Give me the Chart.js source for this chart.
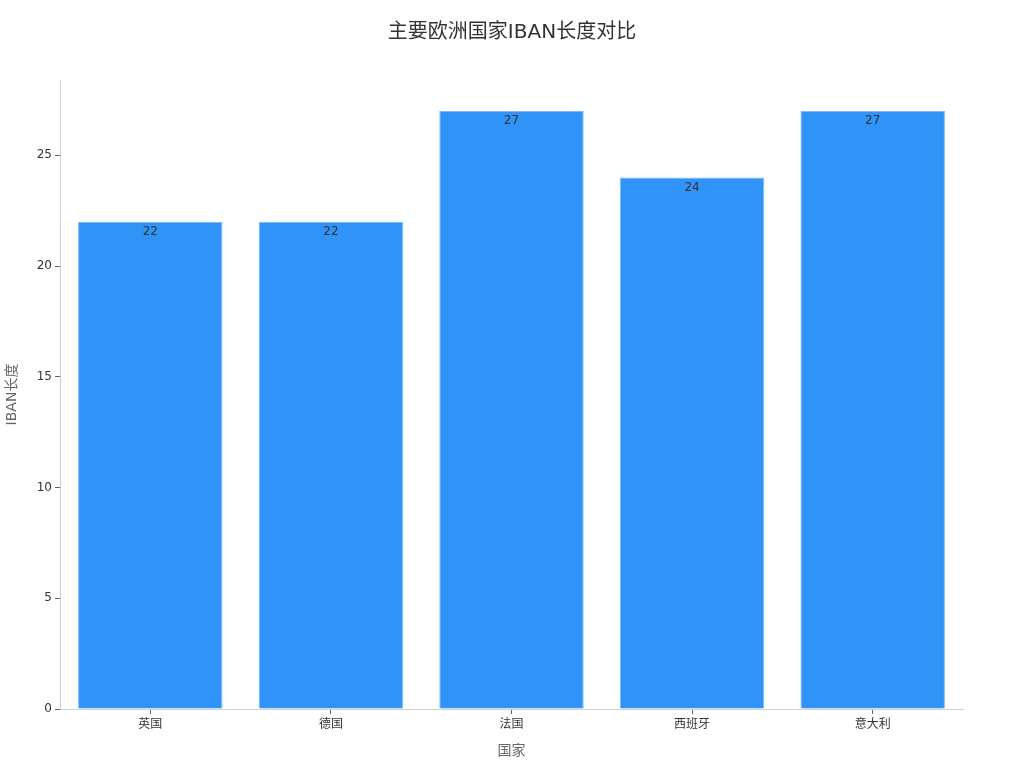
<!DOCTYPE html>
<html>
<head>
<meta charset="utf-8">
<script src="https://cdn.jsdelivr.net/npm/chart.js@4"></script>
<style>
  html, body { margin: 0; padding: 0; background: #fff; }
  canvas { display: block; }
</style>
</head>
<body>
<canvas id="chart" width="1024" height="768"></canvas>
<script>
const countries = ['英国', '德国', '法国', '西班牙', '意大利'];
const ibanLengths = [22, 22, 27, 24, 27];
const yTicks = [0, 5, 10, 15, 20, 25];
const chartTitle = '主要欧洲国家IBAN长度对比';

const FONT = "'DejaVu Sans', 'Noto Sans CJK SC', sans-serif";

// title centred on the whole canvas + value labels inside bar tops
const extras = {
  id: 'extras',
  afterDatasetsDraw(chart) {
    const ctx = chart.ctx;
    const meta = chart.getDatasetMeta(0);
    ctx.save();
    ctx.font = '12px ' + FONT;
    ctx.fillStyle = '#333';
    ctx.textAlign = 'center';
    ctx.textBaseline = 'middle';
    meta.data.forEach((bar, i) => {
      ctx.fillText(String(ibanLengths[i]), bar.x, bar.y + 10);
    });
    ctx.font = '20px ' + FONT;
    ctx.fillText(chartTitle, chart.width / 2, 33);
    ctx.restore();
  }
};

new Chart(document.getElementById('chart'), {
  type: 'bar',
  data: {
    labels: countries,
    datasets: [{
      label: 'IBAN长度',
      data: ibanLengths,
      backgroundColor: '#2f93f7',
      borderColor: '#7dbaf8',
      borderWidth: 1,
      barPercentage: 0.8,
      categoryPercentage: 1.0
    }]
  },
  options: {
    responsive: false,
    animation: false,
    layout: { padding: { left: 0, right: 61, top: 80, bottom: 0 } },
    plugins: {
      legend: { display: false },
      tooltip: { enabled: false },
      title: { display: false }
    },
    scales: {
      x: {
        afterFit(scale) { scale.height = 59; },
        grid: { display: true, offset: false, drawOnChartArea: false, drawTicks: true, tickLength: 5, color: '#666' },
        border: { display: true, color: '#d0d0d0', width: 1 },
        ticks: { color: '#333', padding: 4, font: { family: FONT, size: 12 } },
        title: {
          display: true,
          text: '国家',
          color: '#666',
          font: { family: FONT, size: 14 },
          padding: { top: 4, bottom: 8 }
        }
      },
      y: {
        min: 0,
        max: 28.4,
        afterFit(scale) { scale.width = 60; },
        afterBuildTicks(scale) { scale.ticks = yTicks.map(v => ({ value: v })); },
        grid: { display: true, drawOnChartArea: false, drawTicks: true, tickLength: 5, color: '#666' },
        border: { display: true, color: '#d0d0d0', width: 1 },
        ticks: { color: '#333', padding: 3, font: { family: FONT, size: 12 } },
        title: {
          display: true,
          text: 'IBAN长度',
          color: '#666',
          font: { family: FONT, size: 14 },
          padding: { top: 4, bottom: 10 }
        }
      }
    }
  },
  plugins: [extras]
});
</script>
</body>
</html>
